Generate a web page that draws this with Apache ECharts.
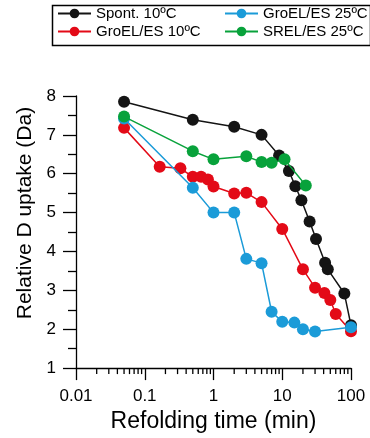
<!DOCTYPE html>
<html><head><meta charset="utf-8">
<script src="https://cdn.jsdelivr.net/npm/echarts@6/dist/echarts.min.js"></script>
<style>html,body{margin:0;padding:0;background:#fff}#c{width:370px;height:438px}</style>
</head><body><div id="c"></div>
<script>
const spontX = [0.05, 0.5, 2, 5, 9, 12.5, 15.5, 19, 25, 31, 42, 46, 80, 100];
const spontY = [7.85, 7.39, 7.21, 7.0, 6.47, 6.07, 5.68, 5.32, 4.77, 4.32, 3.71, 3.54, 2.92, 2.1];
const groel10X = [0.05, 0.165, 0.33, 0.5, 0.66, 0.83, 1, 2, 3, 5, 10, 20, 30, 41, 50, 60, 100];
const groel10Y = [7.18, 6.18, 6.14, 5.92, 5.92, 5.85, 5.67, 5.49, 5.51, 5.27, 4.58, 3.54, 3.07, 2.93, 2.75, 2.39, 1.95];
const groel25X = [0.05, 0.5, 1, 2, 3, 5, 7, 10, 15, 20, 30, 100];
const groel25Y = [7.42, 5.64, 5.0, 5.0, 3.81, 3.7, 2.45, 2.19, 2.17, 2.0, 1.94, 2.05];
const srelX = [0.05, 0.5, 1, 3, 5, 7, 10.8, 22];
const srelY = [7.47, 6.58, 6.37, 6.45, 6.3, 6.28, 6.37, 5.7];
const xMinorTicks = [0.02,0.03,0.04,0.05,0.06,0.07,0.08,0.09,0.2,0.3,0.4,0.5,0.6,0.7,0.8,0.9,2,3,4,5,6,7,8,9,20,30,40,50,60,70,80,90];
const seriesNames = ['Spont. 10ºC', 'GroEL/ES 10ºC', 'GroEL/ES 25ºC', 'SREL/ES 25ºC'];
const seriesColors = ['#141414', '#e30a17', '#1b9bd8', '#08a23b'];

const zip = (xs, ys) => xs.map((x, i) => [x, ys[i]]);
const dataSets = [zip(spontX, spontY), zip(groel10X, groel10Y), zip(groel25X, groel25Y), zip(srelX, srelY)];
const FONT = 'Liberation Sans, Arial, sans-serif';

const chart = echarts.init(document.getElementById('c'), null, {renderer: 'canvas'});
const lineSeries = dataSets.map((d, i) => ({
  name: seriesNames[i], type: 'line', data: d,
  symbol: 'circle', symbolSize: 12,
  lineStyle: {color: seriesColors[i], width: 1.5},
  itemStyle: {color: seriesColors[i]},
  emphasis: {disabled: true}, animation: false, z: 3 + i
}));
const legendBase = {
  orient: 'vertical', top: 6, padding: 0, itemWidth: 33, itemHeight: 12, itemGap: 3,
  textStyle: {fontSize: 15, color: '#000', fontFamily: FONT}
};
chart.setOption({
  animation: false,
  grid: {left: 76, right: 19, top: 96, bottom: 68},
  legend: [
    Object.assign({data: [seriesNames[0], seriesNames[1]], left: 57}, legendBase),
    Object.assign({data: [seriesNames[2], seriesNames[3]], left: 224}, legendBase)
  ],
  graphic: [{type: 'rect', left: 50, top: 3, shape: {width: 318, height: 40},
    style: {fill: 'none', stroke: '#000', lineWidth: 1.5}, z: -1}],
  xAxis: {
    type: 'log', logBase: 10, min: 0.01, max: 100,
    name: 'Refolding time (min)', nameLocation: 'middle', nameGap: 39,
    nameTextStyle: {fontSize: 23, color: '#000', fontFamily: FONT},
    axisLine: {lineStyle: {color: '#000', width: 1.3}},
    axisTick: {length: 12, lineStyle: {color: '#000', width: 1.3}},
    axisLabel: {fontSize: 17, color: '#000', fontFamily: FONT, margin: 20,
      formatter: v => String(Number(v.toPrecision(3)))},
    splitLine: {show: false}
  },
  yAxis: {
    type: 'value', min: 1, max: 8, interval: 1,
    name: 'Relative D uptake (Da)', nameLocation: 'middle', nameGap: 40,
    nameTextStyle: {fontSize: 21, color: '#000', fontFamily: FONT, padding: [0, 0, 0, 38]},
    axisLine: {show: true, lineStyle: {color: '#000', width: 1.3}},
    axisTick: {show: true, length: 13, lineStyle: {color: '#000', width: 1.3}},
    minorTick: {show: true, splitNumber: 2, length: 8, lineStyle: {color: '#000', width: 1.3}},
    axisLabel: {fontSize: 17, color: '#000', fontFamily: FONT, margin: 20},
    splitLine: {show: false}
  },
  series: [{
    type: 'custom', silent: true, clip: false, z: 1,
    data: xMinorTicks.map(v => [v, 1]), encode: {x: 0, y: 1},
    renderItem: (params, api) => {
      const p = api.coord([api.value(0), 1]);
      return {type: 'line', shape: {x1: p[0], y1: p[1], x2: p[0], y2: p[1] + 6},
        style: {stroke: '#000', lineWidth: 1.3}};
    }
  }].concat(lineSeries)
});
</script></body></html>
